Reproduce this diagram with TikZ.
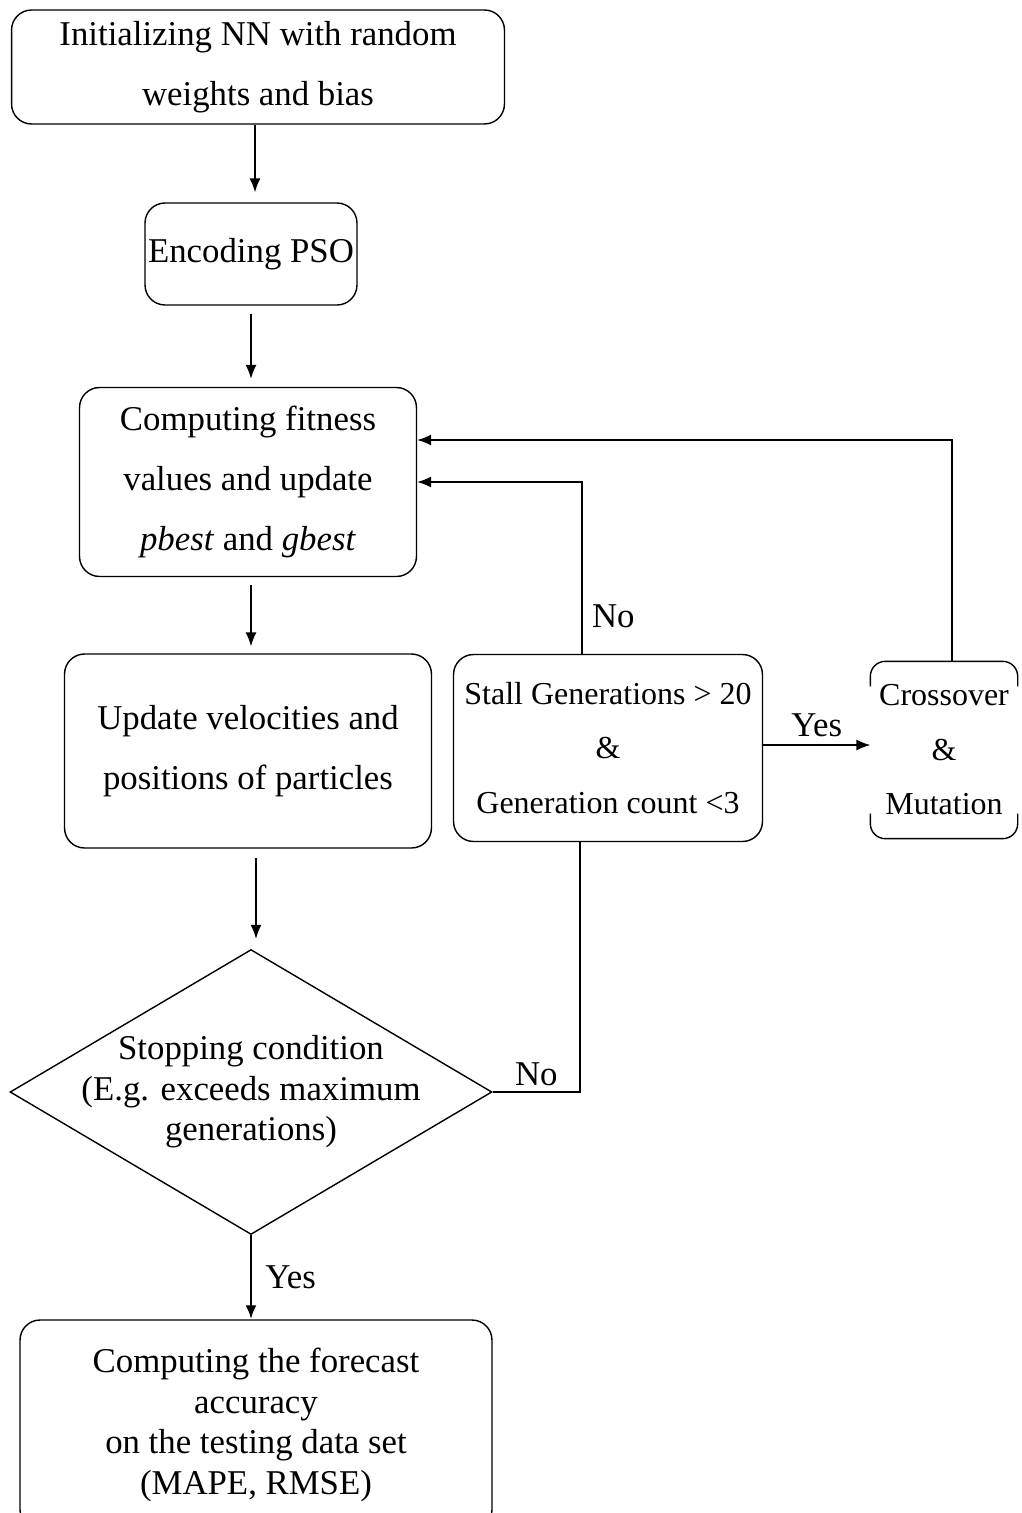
\documentclass[tikz,border=0pt]{standalone}
\usepackage{fontspec}
\setmainfont{Liberation Serif}
\usetikzlibrary{shapes.geometric,arrows.meta}

\tikzset{
  box/.style={draw, rounded corners=0.4cm, line width=0.8pt, align=center,
    inner sep=0pt, font=\fontsize{19.8}{34}\selectfont},
  tightbox/.style={box, font=\fontsize{19.8}{23}\selectfont},
  sidebox/.style={box, font=\fontsize{18.2}{31}\selectfont},
  decision/.style={draw, shape=diamond, aspect=1.69, line width=0.8pt, align=center,
    inner xsep=-0.6cm, inner ysep=0pt, minimum width=9.64cm, minimum height=5.7cm,
    font=\fontsize{19.8}{23}\selectfont},
  arr/.style={line width=0.8pt, -{Latex[length=2.8mm,width=2.2mm]}},
  lbl/.style={font=\fontsize{19.8}{22}\selectfont}
}

\begin{document}
\begin{tikzpicture}[x=0.02cm, y=-0.02cm]
  \useasboundingbox (0,0) rectangle (1021,1513);

  % main column
  \node[box, minimum width=9.86cm, minimum height=2.28cm] (init) at (258,67)
    {Initializing NN with random\\weights and bias};
  \node[box, minimum width=4.24cm, minimum height=2.04cm] (encode) at (251,254)
    {Encoding PSO};
  \node[box, minimum width=6.74cm, minimum height=3.78cm] (fitness) at (248,482)
    {Computing fitness\\values and update\\\textit{pbest} and \textit{gbest}};
  \node[box, minimum width=7.34cm, minimum height=3.88cm] (update) at (248,751)
    {Update velocities and\\positions of particles};
  \node[decision] (stop) at (251,1092)
    {Stopping condition\\(E.g. exceeds maximum\\generations)};
  \node[tightbox, minimum width=9.44cm, minimum height=4.2cm] (result) at (256,1425)
    {Computing the forecast\\accuracy\\on the testing data set\\(MAPE, RMSE)};

  % side boxes
  \node[sidebox, minimum width=6.18cm, minimum height=3.74cm] (stall) at (608,748)
    {Stall Generations > 20\\\&\\Generation count <3};
  \node[sidebox, draw=none, minimum width=2.92cm, minimum height=3.52cm] (cross) at (944,750)
    {Crossover\\\&\\Mutation};
  % only top and bottom of this frame are visible
  \draw[line width=0.8pt, rounded corners=0.3cm] ([yshift=-0.5cm]cross.north west) -- (cross.north west)
    -- (cross.north east) -- ([yshift=-0.5cm]cross.north east);
  \draw[line width=0.8pt, rounded corners=0.3cm] ([yshift=0.5cm]cross.south west) -- (cross.south west)
    -- (cross.south east) -- ([yshift=0.5cm]cross.south east);

  % end points of the feedback lines
  \coordinate (stallbot) at ([xshift=-0.56cm]stall.south);
  \coordinate (stalltop) at ([xshift=-0.52cm]stall.north);
  \coordinate (crosstop) at ([xshift=0.16cm]cross.north);

  % connectors
  \draw[arr, shorten >=0.2cm] ([xshift=-0.06cm]init.south) -- ([xshift=-0.06cm]init.south |- encode.north);
  \draw[arr, shorten <=0.16cm, shorten >=0.16cm] (encode.south) -- (encode.south |- fitness.north);
  \draw[arr, shorten <=0.16cm, shorten >=0.14cm] ([xshift=0.06cm]fitness.south) -- ([xshift=0.06cm]fitness.south |- update.north);
  \draw[arr, shorten <=0.18cm, shorten >=0.2cm] ([xshift=0.16cm]update.south) -- ([xshift=0.16cm]update.south |- stop.north);
  \draw[arr, line width=1.6pt] (stop.south) -- node[lbl, right=4pt] {Yes} (stop.south |- result.north);

  \draw[line width=0.8pt] (stop.east) -- node[lbl, above] {No} (stop.east -| stallbot) -- (stallbot);
  \draw[arr] (stalltop) -- node[lbl, right=2pt, pos=0.22] {No} (stalltop |- fitness.east) -- (fitness.east);
  \draw[arr] ([yshift=0.06cm]stall.east) -- node[lbl, above=1pt] {Yes} ([yshift=0.06cm]stall.east -| cross.west);
  \draw[arr] (crosstop) |- ([yshift=0.84cm]fitness.east);
\end{tikzpicture}
\end{document}
